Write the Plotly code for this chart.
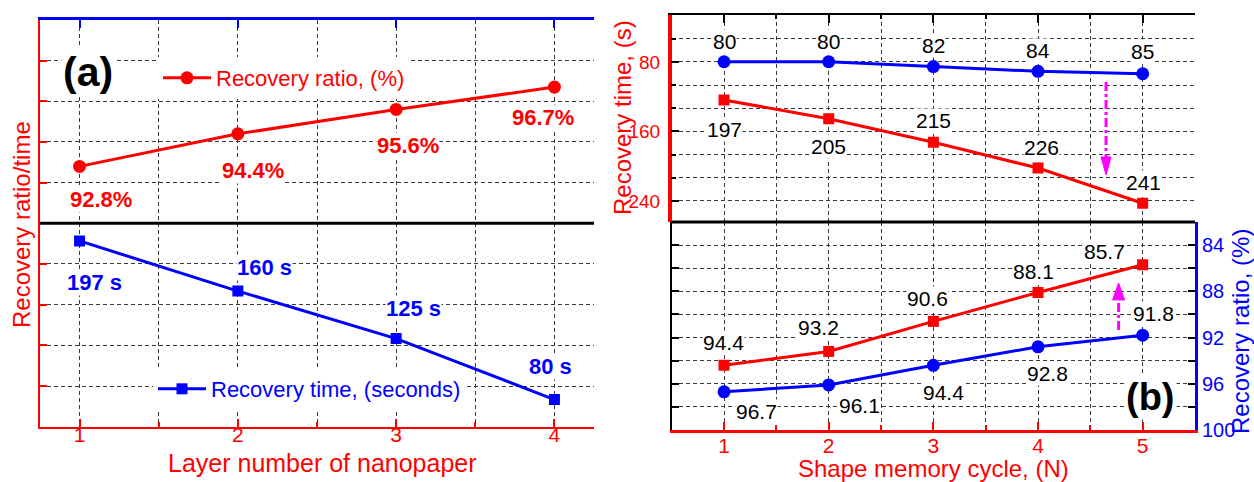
import plotly.graph_objects as go

# ---------------- data ----------------
layers = [1, 2, 3, 4]
ratio_a = [92.8, 94.4, 95.6, 96.7]          # recovery ratio, %
time_a = [197, 160, 125, 80]                # recovery time, s

cycles = [1, 2, 3, 4, 5]
time_b_blue = [80, 80, 82, 84, 85]          # recovery time, s (circles)
time_b_red = [197, 205, 215, 226, 241]      # recovery time, s (squares)
ratio_b_red = [94.4, 93.2, 90.6, 88.1, 85.7]    # recovery ratio, % (squares)
ratio_b_blue = [96.7, 96.1, 94.4, 92.8, 91.8]   # recovery ratio, % (circles)

time_ticks_b = [80, 160, 240]
ratio_ticks_b = [84, 88, 92, 96, 100]

# value-label offsets in pixels (xshift, yshift)
ratio_a_shift = [(21, -33), (15, -37), (12, -36), (-11, -30)]
time_a_shift = [(15, -42), (27, 24), (17, 30), (-4, 33)]
time_b_blue_shift = [(0, 20), (0, 20), (0, 21), (0, 21), (0, 22)]
time_b_red_shift = [(0, -30), (0, -28), (0, 22), (3, 21), (1, 21)]
ratio_b_red_shift = [(-1, 23), (-10, 24), (-6, 23), (-5, 21), (-38, 13)]
ratio_b_blue_shift = [(32, -20), (31, -21), (10, -27), (9, -27), (11, 22)]

# ---------------- styling ----------------
W, H = 1254, 482
RED = "#ff0000"
BLUE = "#0000ff"
MAGENTA = "#ff00ff"
FONT = "Liberation Sans, Arial, sans-serif"


def fx(p):
    return p / W


def fy(p):
    return 1 - p / H


A_X = [fx(40), fx(594)]
A_TOP = [fy(223.3), fy(20)]
A_BOT = [fy(426.7), fy(223.3)]
B_X = [fx(671.7), fx(1195)]
B_TOP = [fy(222), fy(15)]
B_BOT = [fy(430), fy(222)]

GRID = dict(showgrid=True, gridcolor="#3a3a3a", gridwidth=1, griddash="4px,3px")
BASE = dict(automargin=False, zeroline=False, showline=True)


def minor(dtick, tick0, color, grid=True, ticklen=5):
    m = dict(dtick=dtick, tick0=tick0, ticks="inside", ticklen=ticklen,
             tickwidth=1.5, tickcolor=color)
    if grid:
        m.update(showgrid=True, gridcolor="#3a3a3a", gridwidth=1, griddash="4px,3px")
    else:
        m.update(showgrid=False)
    return m


fig = go.Figure()

# ---- panel (a) ----
fig.add_trace(go.Scatter(
    x=layers, y=ratio_a, xaxis="x2", yaxis="y3", mode="lines+markers",
    name="Recovery ratio, (%)", legend="legend",
    line=dict(color=RED, width=3), marker=dict(symbol="circle", size=13, color=RED)))
fig.add_trace(go.Scatter(
    x=layers, y=time_a, xaxis="x", yaxis="y", mode="lines+markers",
    name="Recovery time, (seconds)", legend="legend2",
    line=dict(color=BLUE, width=3), marker=dict(symbol="square", size=11, color=BLUE)))

# ---- panel (b) ----
fig.add_trace(go.Scatter(
    x=cycles, y=time_b_blue, xaxis="x5", yaxis="y9", mode="lines+markers", showlegend=False,
    line=dict(color=BLUE, width=3), marker=dict(symbol="circle", size=13, color=BLUE)))
fig.add_trace(go.Scatter(
    x=cycles, y=time_b_red, xaxis="x6", yaxis="y10", mode="lines+markers", showlegend=False,
    line=dict(color=RED, width=3), marker=dict(symbol="square", size=11, color=RED)))
fig.add_trace(go.Scatter(
    x=cycles, y=ratio_b_red, xaxis="x3", yaxis="y5", mode="lines+markers", showlegend=False,
    line=dict(color=RED, width=3), marker=dict(symbol="square", size=11, color=RED)))
fig.add_trace(go.Scatter(
    x=cycles, y=ratio_b_blue, xaxis="x3", yaxis="y6", mode="lines+markers", showlegend=False,
    line=dict(color=BLUE, width=3), marker=dict(symbol="circle", size=13, color=BLUE)))

HIDDEN_X = dict(domain=B_X, range=[0.5, 5.5], visible=False, automargin=False)

layout = dict(
    template="none",
    width=W, height=H, margin=dict(l=0, r=0, t=0, b=0, autoexpand=False),
    paper_bgcolor="white", plot_bgcolor="rgba(0,0,0,0)",
    font=dict(family=FONT),
    # panel (a) lower
    xaxis=dict(domain=A_X, anchor="y", side="bottom", range=[0.75, 4.25],
               linecolor=RED, linewidth=2, **BASE,
               tickmode="array", tickvals=layers, ticks="inside", ticklen=8, tickwidth=2,
               tickcolor=RED, tickfont=dict(size=21, color=RED), ticklabelstandoff=-12,
               minor=minor(0.5, 0.5, RED), **GRID),
    yaxis=dict(domain=A_BOT, anchor="x", range=[60, 210], linecolor=RED,
               linewidth=2, **BASE, dtick=30, tick0=60, ticks="inside", ticklen=7,
               tickwidth=2, tickcolor=RED, showticklabels=False, **GRID),
    yaxis2=dict(domain=A_BOT, overlaying="y", anchor="x", side="right", range=[60, 210],
                linecolor=BLUE, linewidth=2, **BASE, dtick=30, tick0=60,
                ticks="inside", ticklen=7, tickwidth=2, tickcolor=BLUE,
                showticklabels=False, showgrid=False),
    # panel (a) upper
    xaxis2=dict(domain=A_X, anchor="y3", side="top", range=[0.75, 4.25],
                linecolor=BLUE, linewidth=3, **BASE,
                tickmode="array", tickvals=layers, ticks="inside", ticklen=8, tickwidth=2,
                tickcolor=BLUE, showticklabels=False,
                minor=minor(0.5, 0.5, BLUE, ticklen=0), **GRID),
    yaxis3=dict(domain=A_TOP, anchor="x2", range=[90, 100], linecolor=RED,
                linewidth=2, **BASE, dtick=2, tick0=90, ticks="inside", ticklen=7,
                tickwidth=2, tickcolor=RED, showticklabels=False, **GRID),
    yaxis4=dict(domain=A_TOP, overlaying="y3", anchor="x2", side="right", range=[90, 100],
                linecolor=BLUE, linewidth=2, **BASE, dtick=2, tick0=90,
                ticks="inside", ticklen=7, tickwidth=2, tickcolor=BLUE,
                showticklabels=False, showgrid=False),
    # panel (b) lower
    xaxis3=dict(domain=B_X, anchor="y5", side="bottom", range=[0.5, 5.5],
                linecolor=RED, linewidth=3, **BASE,
                tickmode="array", tickvals=cycles, ticks="inside", ticklen=8, tickwidth=2,
                tickcolor=RED, tickfont=dict(size=21, color=RED), ticklabelstandoff=-5,
                minor=minor(0.5, 0.5, RED), **GRID),
    yaxis5=dict(domain=B_BOT, anchor="x3", range=[100, 82], linecolor="black",
                linewidth=2, **BASE, dtick=2, tick0=84, ticks="inside", ticklen=7,
                tickwidth=2, tickcolor="black", showticklabels=False, **GRID),
    yaxis6=dict(domain=B_BOT, overlaying="y5", anchor="x3", side="right", range=[100, 82],
                linecolor=BLUE, linewidth=3, **BASE, tickmode="array",
                tickvals=ratio_ticks_b, ticks="inside", ticklen=7, tickwidth=2,
                tickcolor="black", tickfont=dict(size=20, color=BLUE), ticklabelstandoff=0,
                minor=minor(2, 84, "black", grid=False, ticklen=7), showgrid=False),
    # panel (b) upper: visible frame and time scale
    xaxis4=dict(domain=B_X, anchor="y7", side="top", range=[0.5, 5.5],
                linecolor="black", linewidth=2, **BASE,
                tickmode="array", tickvals=cycles, ticks="inside", ticklen=8, tickwidth=2,
                tickcolor="black", showticklabels=False,
                minor=minor(0.5, 0.5, "black", ticklen=4), **GRID),
    yaxis7=dict(domain=B_TOP, anchor="x4", range=[264.2, 25.9], linecolor=RED,
                linewidth=3.5, **BASE, tickmode="array", tickvals=time_ticks_b,
                ticks="inside", ticklen=8, tickwidth=2, tickcolor="black",
                tickfont=dict(size=19, color=RED), ticklabelstandoff=4,
                minor=minor(80 / 3, 80, "black", ticklen=5), **GRID),
    yaxis8=dict(domain=B_TOP, overlaying="y7", anchor="x4", side="right", range=[264.2, 25.9],
                linecolor="black", linewidth=2, **BASE,
                tickmode="array", tickvals=time_ticks_b, ticks="inside", ticklen=8,
                tickwidth=2, tickcolor="black", showticklabels=False, showgrid=False,
                minor=minor(80 / 3, 80, "black", grid=False, ticklen=5)),
    # panel (b) upper: scales carrying the two time series
    xaxis5=dict(anchor="y9", **HIDDEN_X),
    xaxis6=dict(anchor="y10", **HIDDEN_X),
    yaxis9=dict(domain=B_TOP, anchor="x5", range=[146.8, 60.5],
                visible=False, automargin=False),
    yaxis10=dict(domain=B_TOP, anchor="x6", range=[249, 160.8],
                 visible=False, automargin=False),
    legend=dict(x=fx(158), y=fy(78), xanchor="left", yanchor="middle", bgcolor="white",
                borderwidth=0, font=dict(size=22, color=RED, family=FONT), itemwidth=48),
    legend2=dict(x=fx(153), y=fy(389), xanchor="left", yanchor="middle", bgcolor="white",
                 borderwidth=0, font=dict(size=22, color=BLUE, family=FONT), itemwidth=48),
)
fig.update_layout(**layout)

# thick black separators between the upper and lower halves
for xr, yr in (("x", "y"), ("x3", "y5")):
    fig.add_shape(type="line", xref=f"{xr} domain", yref=f"{yr} domain",
                  x0=0, x1=1, y0=1, y1=1, line=dict(color="black", width=3))

# magenta dash-dot arrows in panel (b)
fig.add_shape(type="line", xref="x4", yref="y7 domain", x0=4.65, x1=4.65,
              y0=0.676, y1=0.31, line=dict(color=MAGENTA, width=3, dash="dashdot"))
fig.add_shape(type="path", xref="x4", yref="y7 domain", xsizemode="pixel", ysizemode="pixel",
              xanchor=4.65, yanchor=0.227, path="M-5,18 L5,18 L0,0 Z",
              fillcolor=MAGENTA, line=dict(color=MAGENTA, width=1))
fig.add_shape(type="line", xref="x3", yref="y5 domain", x0=4.77, x1=4.77,
              y0=0.481, y1=0.63, line=dict(color=MAGENTA, width=3, dash="dashdot"))
fig.add_shape(type="path", xref="x3", yref="y5 domain", xsizemode="pixel", ysizemode="pixel",
              xanchor=4.77, yanchor=0.707, path="M-6,-17 L6,-17 L0,0 Z",
              fillcolor=MAGENTA, line=dict(color=MAGENTA, width=1))


# value labels
def add_labels(xs, ys, shifts, xref, yref, fmt, color, bold, size):
    for xv, yv, (dx, dy) in zip(xs, ys, shifts):
        txt = fmt(yv)
        if bold:
            txt = f"<b>{txt}</b>"
        fig.add_annotation(x=xv, y=yv, xref=xref, yref=yref, text=txt, showarrow=False,
                           xanchor="center", yanchor="middle",
                           xshift=dx, yshift=dy, bgcolor="white", borderpad=0,
                           font=dict(size=size, color=color, family=FONT))


add_labels(layers, ratio_a, ratio_a_shift, "x2", "y3", lambda v: f"{v}%", RED, True, 22)
add_labels(layers, time_a, time_a_shift, "x", "y", lambda v: f"{v} s", BLUE, True, 22)
add_labels(cycles, time_b_blue, time_b_blue_shift, "x5", "y9", str, "black", False, 21)
add_labels(cycles, time_b_red, time_b_red_shift, "x6", "y10", str, "black", False, 21)
add_labels(cycles, ratio_b_red, ratio_b_red_shift, "x3", "y5", str, "black", False, 21)
add_labels(cycles, ratio_b_blue, ratio_b_blue_shift, "x3", "y6", str, "black", False, 21)

# panel tags
for tag, px, py, size in (("(a)", 88, 72, 41), ("(b)", 1150, 397, 38)):
    fig.add_annotation(x=fx(px), y=fy(py), xref="paper", yref="paper", text=f"<b>{tag}</b>",
                       showarrow=False, xanchor="center", yanchor="middle", bgcolor="white",
                       font=dict(size=size, color="black", family=FONT))

# axis titles
titles = [
    ("Recovery ratio/time", 21, 225, -90, RED, 24),
    ("Recovery time, (s)", 622, 118, -90, RED, 24),
    ("Recovery ratio, (%)", 1240, 332, -90, BLUE, 24),
    ("Layer number of nanopaper", 322, 463, 0, RED, 25),
    ("Shape memory cycle, (N)", 933, 468, 0, RED, 24),
]
for txt, px, py, ang, col, size in titles:
    fig.add_annotation(x=fx(px), y=fy(py), xref="paper", yref="paper", text=txt,
                       showarrow=False, textangle=ang, xanchor="center", yanchor="middle",
                       font=dict(size=size, color=col, family=FONT))

fig.write_html("out.html")
